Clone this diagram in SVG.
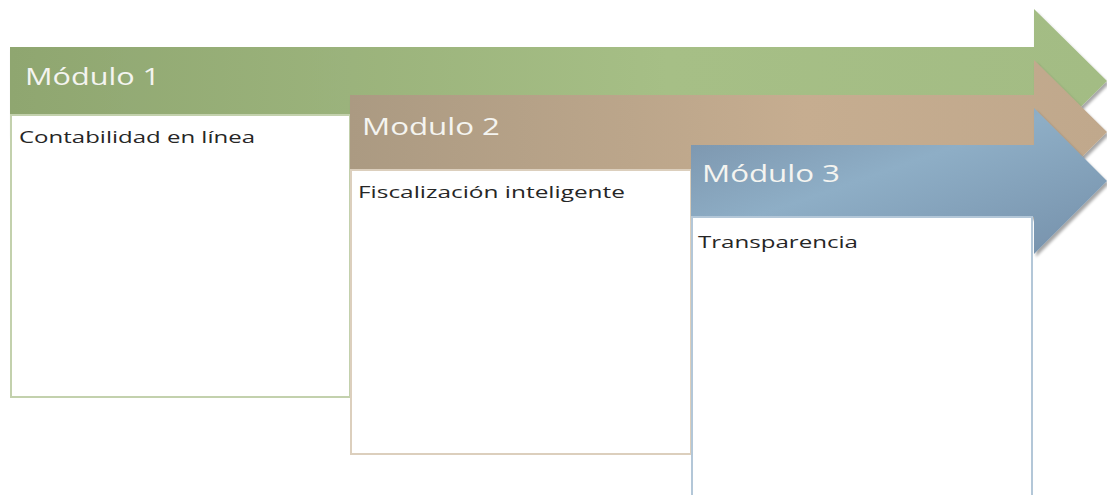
<svg xmlns="http://www.w3.org/2000/svg" width="1107" height="495" viewBox="0 0 1107 495">
  <defs>
    <linearGradient id="gGreen" x1="0" y1="0" x2="1" y2="0">
      <stop offset="0" stop-color="#8fa670"/>
      <stop offset="0.6" stop-color="#a6bf86"/>
      <stop offset="1" stop-color="#a3bc84"/>
    </linearGradient>
    <linearGradient id="gTan" x1="0" y1="0" x2="1" y2="0">
      <stop offset="0" stop-color="#ab9a82"/>
      <stop offset="0.6" stop-color="#c6ad90"/>
      <stop offset="1" stop-color="#c0a88c"/>
    </linearGradient>
    <linearGradient id="gBlue" x1="0" y1="0" x2="1" y2="1">
      <stop offset="0" stop-color="#7890a8"/>
      <stop offset="0.45" stop-color="#8eaec6"/>
      <stop offset="1" stop-color="#7590aa"/>
    </linearGradient>
    <filter id="shadow" x="-5%" y="-20%" width="115%" height="150%">
      <feGaussianBlur in="SourceAlpha" stdDeviation="1.5"/>
      <feOffset dx="2" dy="3" result="b"/>
      <feComponentTransfer><feFuncA type="linear" slope="0.35"/></feComponentTransfer>
      <feMerge><feMergeNode/><feMergeNode in="SourceGraphic"/></feMerge>
    </filter>
  </defs>
  <style>
    .head { font-family: "Open Sans", "Liberation Sans", sans-serif; font-size: 24px; fill: #f4f4f0; }
    .body { font-family: "Open Sans", "Liberation Sans", sans-serif; font-size: 17px; fill: #262626; }
    .box { fill: #ffffff; stroke-width: 2; }
  </style>
  <rect width="1107" height="495" fill="#ffffff"/>

  <g id="modulo1">
    <path d="M10,47 H1034 V9 L1107,81 L1034,153 V135 H10 Z" fill="url(#gGreen)" filter="url(#shadow)"/>
    <rect class="box" x="11" y="115" width="339" height="282" stroke="#c3d1ad"/>
    <text class="head" x="25" y="85" textLength="135" lengthAdjust="spacingAndGlyphs">Módulo 1</text>
    <text class="body" x="19" y="143" textLength="236" lengthAdjust="spacingAndGlyphs">Contabilidad en línea</text>
  </g>

  <g id="modulo2">
    <path d="M350,95 H1034 V60 L1107,132 L1034,205 V185 H350 Z" fill="url(#gTan)" filter="url(#shadow)"/>
    <rect class="box" x="351" y="170" width="340" height="284" stroke="#dccfbd"/>
    <text class="head" x="362" y="135" textLength="138" lengthAdjust="spacingAndGlyphs">Modulo 2</text>
    <text class="body" x="358" y="198" textLength="267" lengthAdjust="spacingAndGlyphs">Fiscalización inteligente</text>
  </g>

  <g id="modulo3">
    <path d="M691,145 H1034 V108 L1107,181 L1034,254 V217 H691 Z" fill="url(#gBlue)" filter="url(#shadow)"/>
    <rect class="box" x="692" y="217" width="340" height="290" stroke="#b3c7d8"/>
    <text class="head" x="702" y="182" textLength="138" lengthAdjust="spacingAndGlyphs">Módulo 3</text>
    <text class="body" x="698" y="248" textLength="160" lengthAdjust="spacingAndGlyphs">Transparencia</text>
  </g>

  <g id="connectors"/>
</svg>
